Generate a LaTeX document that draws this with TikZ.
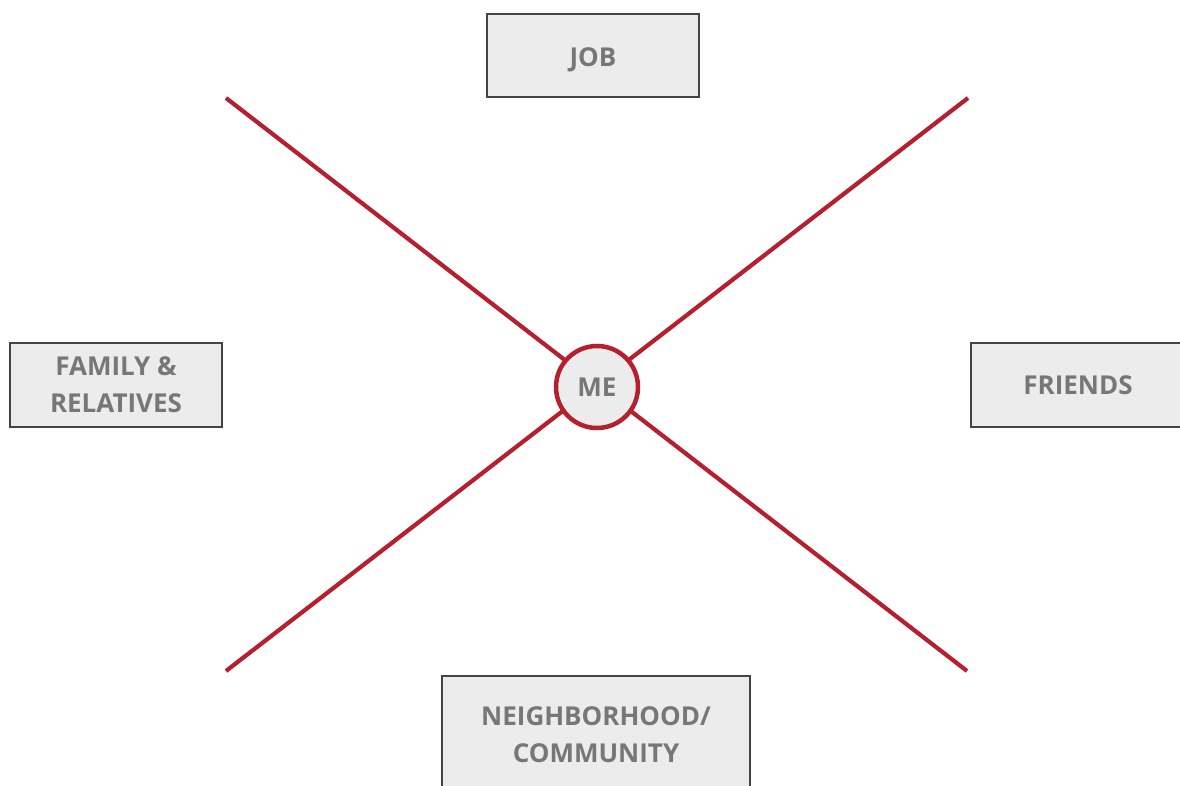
\documentclass[tikz,border=0pt]{standalone}
\usepackage{fontspec}
\setmainfont{Open Sans}
\definecolor{linkred}{HTML}{B51F2E}
\definecolor{boxfill}{HTML}{ECECEC}
\definecolor{boxline}{HTML}{444444}
\definecolor{labelgray}{HTML}{777777}
\begin{document}
\begin{tikzpicture}[x=1pt,y=-1pt,
  area/.style={draw=boxline,line width=2.4pt,fill=boxfill,inner sep=0pt,
    text=labelgray,font=\fontsize{26}{37}\selectfont\bfseries,align=center},
  oneline/.style={text height=18.6pt,text depth=0pt},
  spoke/.style={draw=linkred,line width=4.2pt},
  hub/.style={circle,draw=linkred,line width=4.5pt,fill=boxfill,minimum size=82pt,
    inner sep=0pt,text=labelgray,font=\fontsize{26}{30}\selectfont\bfseries,
    text height=18.6pt,text depth=0pt}]
\useasboundingbox (0,0) rectangle (1180,786);
\fill[white] (0,0) rectangle (1180,786);
% spokes
\coordinate (nw) at (226,98);
\coordinate (se) at (967,671);
\coordinate (ne) at (968,98);
\coordinate (sw) at (226,671);
\draw[spoke] (nw) -- (se);
\draw[spoke] (ne) -- (sw);
% centre
\node[hub] (me) at (597,387) {ME};
% surrounding areas
\node[area,text height=22.6pt,text depth=0pt,minimum width=212pt,minimum height=83pt] (job) at (593,55.5) {JOB};
\node[area,minimum width=212pt,minimum height=84pt] (family) at (116,385) {FAMILY \&\\RELATIVES};
\node[area,oneline,minimum width=214pt,minimum height=84pt] (friends) at (1078,385) {FRIENDS};
\node[area,minimum width=308pt,minimum height=118pt] (hood) at (596,735) {NEIGHBORHOOD/\\COMMUNITY};
\end{tikzpicture}
\end{document}
